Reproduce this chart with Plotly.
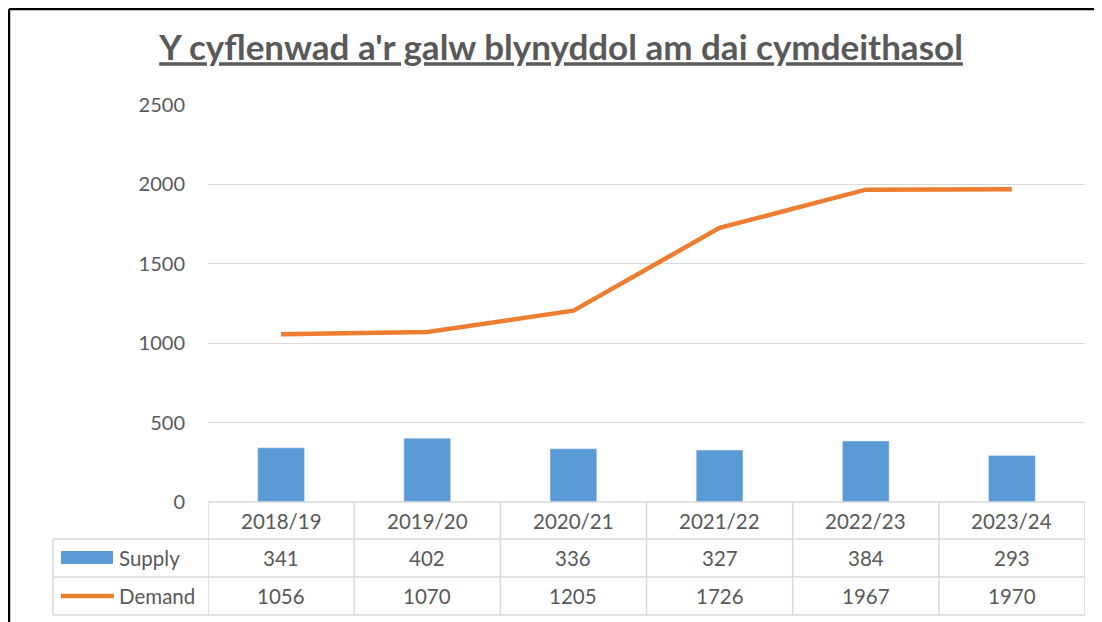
import plotly.graph_objects as go

# data
years = ["2018/19", "2019/20", "2020/21", "2021/22", "2022/23", "2023/24"]
supply = [341, 402, 336, 327, 384, 293]
demand = [1056, 1070, 1205, 1726, 1967, 1970]
y_ticks = [0, 500, 1000, 1500, 2000, 2500]

# page body has an 8px margin, so the figure sits at (8, 8) in the window
OFF = 8
W, H = 1102 - OFF, 622 - OFF
L, R, T, B = 208 - OFF, 17, 105 - OFF, 120
plot_w = W - L - R
plot_h = H - T - B

GRID = "#d9d9d9"
TEXT = "#595959"
BLUE = "#5B9BD5"
ORANGE = "#ED7D31"
FONT = "Lato"


def py(pixel_y):
    """window pixel row -> paper y"""
    return (H - B - (pixel_y - OFF)) / plot_h


def px_(pixel_x):
    """window pixel column -> paper x"""
    return (pixel_x - OFF - L) / plot_w


fig = go.Figure()
fig.add_bar(x=years, y=supply, name="Supply", marker_color=BLUE, width=0.32)
fig.add_trace(go.Scatter(x=years, y=demand, name="Demand", mode="lines",
                         line={"color": ORANGE, "width": 4.5}))

# table rows (window pixel rows)
row_top, row1, row2, row_bot = 502, 539, 577, 615
shapes = []
line = {"color": GRID, "width": 1.5}
shapes.append(dict(type="line", xref="paper", yref="paper", x0=0, x1=1,
                   y0=py(row_top), y1=py(row_top), line=line))
for yy in (row1, row2, row_bot):
    shapes.append(dict(type="line", xref="paper", yref="paper", x0=px_(53), x1=1,
                       y0=py(yy), y1=py(yy), line=line))
shapes.append(dict(type="line", xref="paper", yref="paper", x0=px_(53), x1=px_(53),
                   y0=py(row1), y1=py(row_bot), line=line))
for i in range(len(years) + 1):
    shapes.append(dict(type="line", xref="x", yref="paper", x0=i - 0.5, x1=i - 0.5,
                       y0=py(row_top), y1=py(row_bot), line=line))
# legend keys in the table
shapes.append(dict(type="rect", xref="paper", yref="paper", x0=px_(61), x1=px_(113),
                   y0=py(564), y1=py(551), fillcolor=BLUE, line={"width": 0}))
shapes.append(dict(type="line", xref="paper", yref="paper", x0=px_(61), x1=px_(114),
                   y0=py(596), y1=py(596), line={"color": ORANGE, "width": 4.5}))
# chart border (left and top edges are visible in the crop)
border = {"color": "black", "width": 2.5}
shapes.append(dict(type="line", xref="paper", yref="paper", x0=px_(9), x1=px_(9),
                   y0=py(9), y1=py(622), line=border))
shapes.append(dict(type="line", xref="paper", yref="paper", x0=px_(9), x1=px_(1102),
                   y0=py(9), y1=py(9), line=border))

annotations = []
tf = {"family": FONT, "size": 20.5, "color": TEXT}
mid = dict(showarrow=False, yanchor="middle", font=tf)
for i, yr in enumerate(years):
    annotations.append(dict(x=yr, y=py((row_top + row1) / 2), xref="x", yref="paper",
                            text=yr, xanchor="center", **mid))
    annotations.append(dict(x=yr, y=py((row1 + row2) / 2), xref="x", yref="paper",
                            text=str(supply[i]), xanchor="center", **mid))
    annotations.append(dict(x=yr, y=py((row2 + row_bot) / 2), xref="x", yref="paper",
                            text=str(demand[i]), xanchor="center", **mid))
annotations.append(dict(x=px_(117), y=py((row1 + row2) / 2), xref="paper", yref="paper",
                        text="Supply", xanchor="left", **mid))
annotations.append(dict(x=px_(117), y=py((row2 + row_bot) / 2), xref="paper", yref="paper",
                        text="Demand", xanchor="left", **mid))

fig.update_layout(
    width=W, height=H,
    margin={"l": L, "r": R, "t": T, "b": B},
    paper_bgcolor="white", plot_bgcolor="white",
    showlegend=False,
    title={
        "text": "<b>Y cyflenwad a'r galw blynyddol am dai cymdeithasol</b>",
        "x": (561 - OFF) / W, "xanchor": "center",
        "y": 1 - (48 - OFF) / H, "yanchor": "middle",
        "font": {"family": FONT, "size": 35, "color": TEXT, "lineposition": "under"},
    },
    xaxis={"showticklabels": False, "showgrid": False, "zeroline": False,
           "range": [-0.5, len(years) - 0.5]},
    yaxis={"range": [0, 2500], "tickvals": y_ticks, "gridcolor": GRID, "gridwidth": 1,
           "zeroline": False, "ticklabelstandoff": 22,
           "tickfont": {"family": FONT, "size": 20, "color": TEXT}},
    shapes=shapes,
    annotations=annotations,
)

fig.write_html("out.html")
